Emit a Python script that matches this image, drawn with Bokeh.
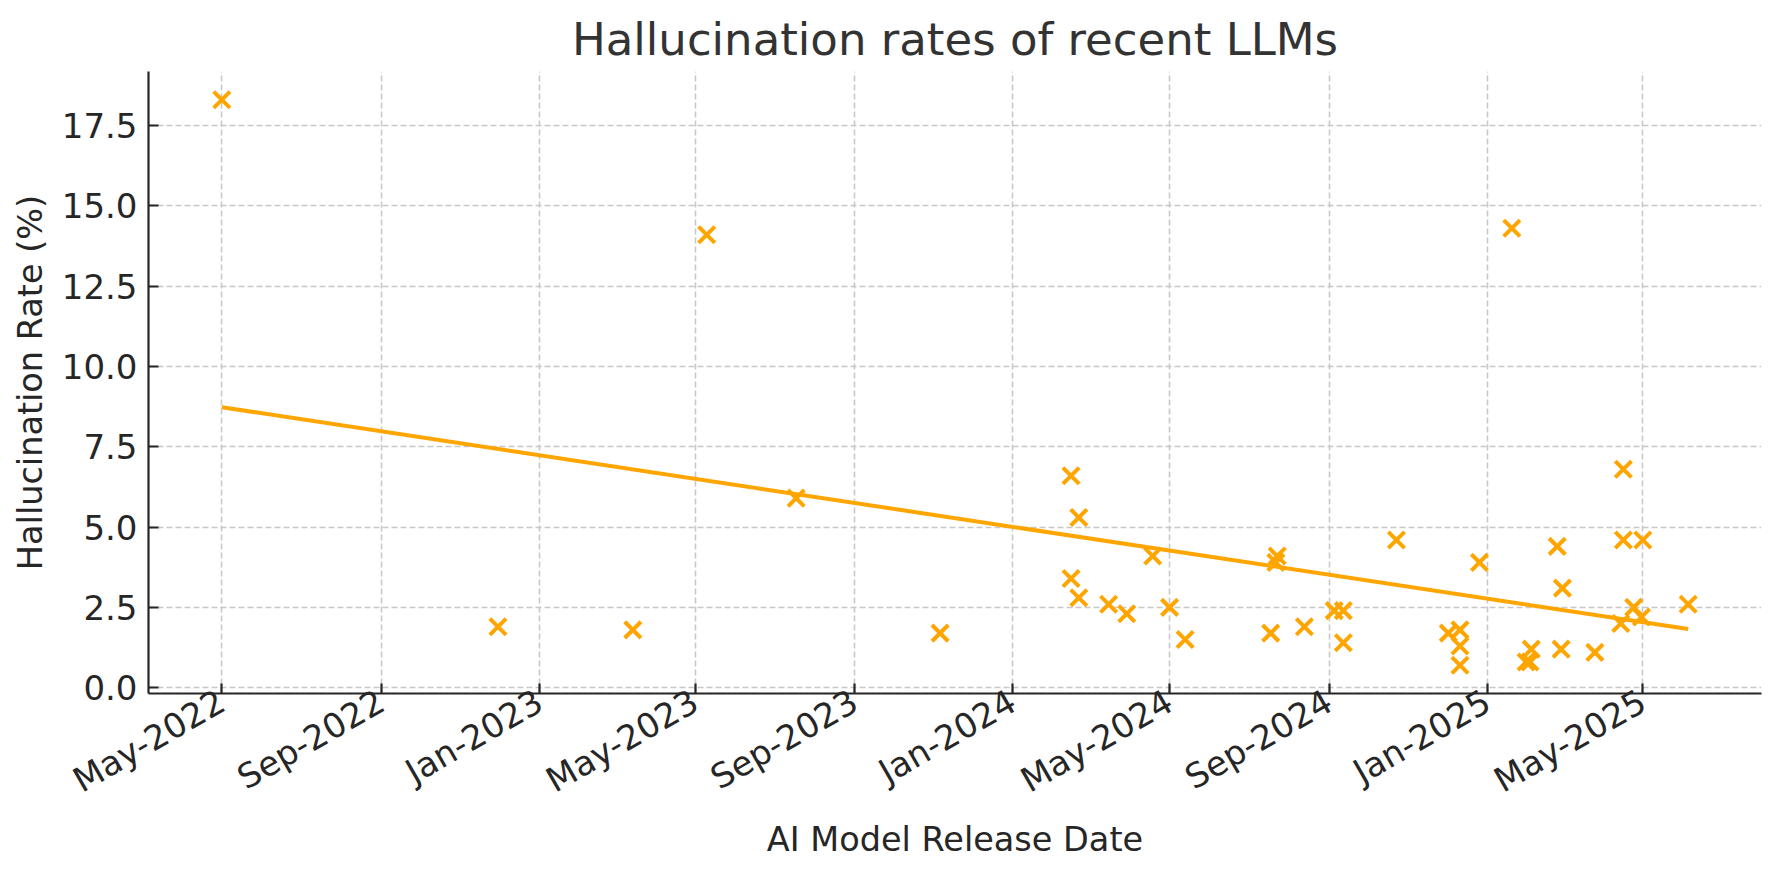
import math
import numpy as np
import pandas as pd
from bokeh.plotting import figure
from bokeh.models import FixedTicker, DatetimeTickFormatter, PrintfTickFormatter, Range1d, ColumnDataSource
from bokeh.embed import file_html
from bokeh.resources import INLINE

# ---- data ----
release_dates = [
    "2022-05-01", "2022-11-30", "2023-03-14", "2023-05-10", "2023-07-18", "2023-11-06",
    "2024-02-15", "2024-02-15", "2024-02-21", "2024-02-21", "2024-03-15", "2024-03-29",
    "2024-04-18", "2024-05-01", "2024-05-13", "2024-07-18", "2024-07-23", "2024-07-22",
    "2024-08-13", "2024-09-05", "2024-09-12", "2024-09-12", "2024-10-23", "2024-12-02",
    "2024-12-11", "2024-12-11", "2024-12-11", "2024-12-26", "2025-01-20", "2025-01-31",
    "2025-02-03", "2025-02-04", "2025-02-24", "2025-02-28", "2025-02-27", "2025-03-25",
    "2025-04-16", "2025-04-16", "2025-05-01", "2025-04-24", "2025-04-14", "2025-04-30",
    "2025-06-05",
]
hallucination_rates = [
    18.3, 1.9, 1.8, 14.1, 5.9, 1.7,
    6.6, 3.4, 5.3, 2.8, 2.6, 2.3,
    4.1, 2.5, 1.5, 1.7, 4.1, 3.9,
    1.9, 2.4, 2.4, 1.4, 4.6, 1.7,
    1.8, 1.3, 0.7, 3.9, 14.3, 0.8,
    0.8, 1.2, 4.4, 3.1, 1.2, 1.1,
    6.8, 4.6, 4.6, 2.5, 2.0, 2.2,
    2.6,
]
x_tick_dates = ["2022-05-01", "2022-09-01", "2023-01-01", "2023-05-01", "2023-09-01",
                "2024-01-01", "2024-05-01", "2024-09-01", "2025-01-01", "2025-05-01"]
y_ticks = [0.0, 2.5, 5.0, 7.5, 10.0, 12.5, 15.0, 17.5]

title_text = "Hallucination rates of recent LLMs"
x_label = "AI Model Release Date"
y_label = "Hallucination Rate (%)"

# ---- derived ----
dates = pd.DatetimeIndex(pd.to_datetime(release_dates)).as_unit("ms")
x_ms = dates.asi8.astype(float)
rates = np.array(hallucination_rates, dtype=float)
tick_ms = pd.DatetimeIndex(pd.to_datetime(x_tick_dates)).as_unit("ms").asi8.astype(float).tolist()

day = 86400000.0
days = (x_ms - x_ms.min()) / day
slope, intercept = np.polyfit(days, rates, 1)
trend_x = [x_ms.min(), x_ms.max()]
trend_y = [intercept, intercept + slope * days.max()]

xspan = x_ms.max() - x_ms.min()
yspan = rates.max() - rates.min()

W, H = 1763, 863
LEFT, TOP, BOTTOM, RIGHT = 148, 71, 170, 2

FONT = "DejaVu Sans"
ORANGE = "#FFA500"
TEXT = "#262626"

p = figure(
    width=W, height=H,
    x_axis_type="datetime",
    output_backend="svg", toolbar_location=None,
    x_range=Range1d(x_ms.min() - 0.05 * xspan, x_ms.max() + 0.05 * xspan),
    y_range=Range1d(rates.min() - 0.05 * yspan, rates.max() + 0.05 * yspan),
    min_border_left=LEFT, min_border_right=RIGHT, min_border_top=TOP, min_border_bottom=BOTTOM,
)
p.outline_line_color = None
p.background_fill_color = "white"
p.border_fill_color = "white"

src = ColumnDataSource(dict(x=x_ms, y=rates))
p.line(trend_x, trend_y, line_color=ORANGE, line_width=4)
p.scatter("x", "y", source=src, marker="x", size=23, line_color=ORANGE, line_width=4)

# title
p.title.text = title_text
p.title.align = "center"
p.title.text_font = FONT
p.title.text_font_size = "45px"
p.title.text_font_style = "normal"
p.title.text_color = "#333333"
p.title.standoff = 12

# axes
for ax in (p.xaxis[0], p.yaxis[0]):
    ax.axis_line_color = TEXT
    ax.axis_line_width = 2.2
    ax.major_tick_line_color = TEXT
    ax.major_tick_line_width = 2.2
    ax.major_tick_in = 10
    ax.major_tick_out = 0
    ax.minor_tick_line_color = None
    ax.major_label_text_font = FONT
    ax.major_label_text_font_size = "34px"
    ax.major_label_text_color = TEXT
    ax.axis_label_text_font = FONT
    ax.axis_label_text_font_size = "33.5px"
    ax.axis_label_text_font_style = "normal"
    ax.axis_label_text_color = TEXT

p.xaxis.ticker = FixedTicker(ticks=tick_ms)
fmt = "%b-%Y"
p.xaxis.formatter = DatetimeTickFormatter(years=fmt, months=fmt, days=fmt, hours=fmt,
                                          minutes=fmt, seconds=fmt, milliseconds=fmt)
p.xaxis.major_label_orientation = math.pi / 6
p.xaxis.major_label_standoff = 5
p.xaxis.axis_label = x_label
p.xaxis.axis_label_standoff = 0

p.yaxis.ticker = FixedTicker(ticks=y_ticks)
p.yaxis.formatter = PrintfTickFormatter(format="%.1f")
p.yaxis.major_label_standoff = 11
p.yaxis.axis_label = y_label
p.yaxis.axis_label_standoff = 9

# grid
for g in (p.xgrid[0], p.ygrid[0]):
    g.grid_line_color = "#c8c8c8"
    g.grid_line_width = 1.6
    g.grid_line_dash = "6 3"

open("out.html", "w").write(file_html(p, INLINE))
